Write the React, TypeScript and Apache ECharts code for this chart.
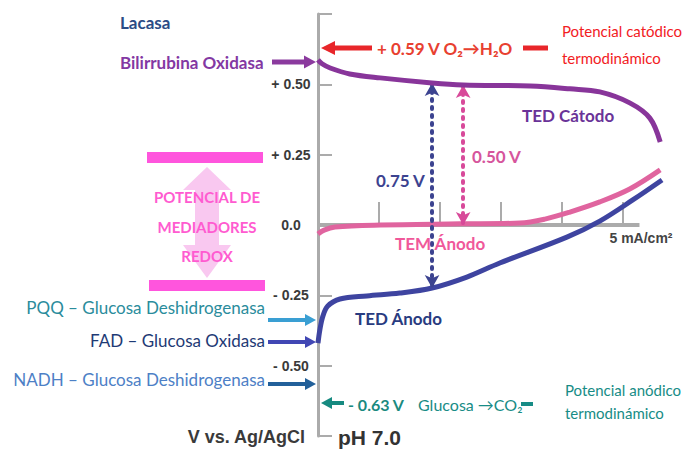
import React, { useEffect, useRef } from 'react';
import * as echarts from 'echarts';

// y-axis (V vs. Ag/AgCl) tick values and labels
const yTickValues = [-0.5, -0.25, 0, 0.25, 0.5];
const yTickLabels = ['- 0.50', '- 0.25', '0.0', '+ 0.25', '+ 0.50'];
// x-axis (current density, mA/cm²)
const xTickValues = [1, 2, 3, 4, 5];
const xAxisEnd = 5.27;
const xLabelText = '5 mA/cm²';

// curves: [current mA/cm², potential V]
const tedCathode = [
  [0, 0.587], [0.066, 0.573], [0.2, 0.558], [0.52, 0.537], [1.02, 0.523], [1.87, 0.505],
  [2.38, 0.498], [3.48, 0.494], [4.13, 0.484], [4.62, 0.473], [5.11, 0.434], [5.44, 0.38], [5.61, 0.295],
];
const temAnode = [
  [0, -0.032], [0.1, -0.018], [0.28, -0.007], [1.02, 0], [2.33, 0.004], [3.31, 0.007],
  [3.72, 0.021], [4.13, 0.046], [4.62, 0.082], [5.11, 0.128], [5.61, 0.196],
];
const tedAnode = [
  [0, -0.42], [0.03, -0.373], [0.08, -0.324], [0.16, -0.288], [0.36, -0.263], [0.8, -0.252],
  [1.34, -0.242], [1.87, -0.224], [2.44, -0.185], [2.98, -0.135], [4.08, -0.043], [4.62, 0.014],
  [5.16, 0.089], [5.64, 0.16],
];
// voltage gaps (dotted double arrows)
const gapTED = [[1.87, 0.505], [1.87, -0.224]]; // 0.75 V
const gapTEM = [[2.38, 0.498], [2.38, 0.0]]; // 0.50 V

const FONT = 'Lato, "Noto Sans", sans-serif';
const AXFONT = '"Liberation Sans", Arial, sans-serif';

function hArrow(xTip: number, xTail: number, y: number, color: string, w: number, headL: number, headW: number) {
  const dir = xTail > xTip ? 1 : -1;
  const base = xTip + dir * headL;
  return [
    { type: 'line', z: 10, shape: { x1: base, y1: y, x2: xTail, y2: y }, style: { stroke: color, lineWidth: w } },
    { type: 'polygon', z: 10, shape: { points: [[xTip, y], [base, y - headW / 2], [base, y + headW / 2]] }, style: { fill: color } },
  ];
}

function txt(text: string, x: number, y: number, fill: string, size: number, weight: string, align: string, family = FONT) {
  return {
    type: 'text', z: 10, x, y,
    style: {
      text, fill, fontSize: size, fontWeight: weight, fontFamily: family,
      align, textAlign: align, verticalAlign: 'middle', textVerticalAlign: 'middle',
    },
  };
}

export default function App() {
  const ref = useRef<HTMLDivElement>(null);
  useEffect(() => {
    const chart = echarts.init(ref.current!, null, { renderer: 'svg' });
    const axisGray = '#ABABAB';
    const graphic: any[] = [
      // left enzyme labels
      txt('Lacasa', 120, 22, '#2B4C85', 17, 'bold', 'left'),
      txt('Bilirrubina Oxidasa', 120, 62, '#8338A3', 17, 'bold', 'left'),
      ...hArrow(316, 272, 62, '#8B3A9E', 5, 12, 13),
      txt('PQQ – Glucosa Deshidrogenasa', 265, 307, '#2A8C9C', 17, 'normal', 'right'),
      ...hArrow(316, 268, 320, '#3A9FD3', 4, 11, 12),
      txt('FAD – Glucosa Oxidasa', 265, 340, '#1E3A75', 17, 'normal', 'right'),
      ...hArrow(316, 268, 342, '#4147B4', 4, 11, 12),
      txt('NADH – Glucosa Deshidrogenasa', 265, 379, '#4D80C6', 17, 'normal', 'right'),
      ...hArrow(316, 268, 384, '#22609A', 4, 11, 12),
      // redox mediators block
      { type: 'polygon', z: 5, shape: { points: [[207, 167], [231, 190], [219, 190], [219, 245], [231, 245], [207, 278], [183, 245], [195, 245], [195, 190], [183, 190]] }, style: { fill: '#F9C8F0' } },
      { type: 'rect', z: 6, shape: { x: 147, y: 152, width: 116, height: 11 }, style: { fill: '#FF55DD' } },
      { type: 'rect', z: 6, shape: { x: 149, y: 280, width: 116, height: 11 }, style: { fill: '#FF55DD' } },
      txt('POTENCIAL DE', 207, 197, '#FF5BD0', 15, 'bold', 'center'),
      txt('MEDIADORES', 207, 227, '#FF5BD0', 15, 'bold', 'center'),
      txt('REDOX', 207, 256, '#FF5BD0', 15, 'bold', 'center'),
      // cathodic thermodynamic potential
      ...hArrow(321, 372, 48, '#E8262A', 5, 14, 14),
      txt('+ 0.59 V O₂→H₂O', 377, 48, '#E84030', 17, 'bold', 'left'),
      { type: 'line', z: 10, shape: { x1: 523, y1: 48, x2: 548, y2: 48 }, style: { stroke: '#E8262A', lineWidth: 5 } },
      txt('Potencial catódico', 562, 31, '#F2201E', 15, 'normal', 'left'),
      txt('termodinámico', 562, 58, '#F2201E', 15, 'normal', 'left'),
      // anodic thermodynamic potential
      ...hArrow(321, 344, 403, '#168A80', 4, 11, 12),
      txt('- 0.63 V', 348, 404, '#1A8A80', 16, 'bold', 'left'),
      txt('Glucosa →CO₂', 418, 404, '#178C86', 16, 'normal', 'left'),
      { type: 'line', z: 10, shape: { x1: 521, y1: 404, x2: 533, y2: 404 }, style: { stroke: '#178C86', lineWidth: 4 } },
      txt('Potencial anódico', 565, 390, '#178C86', 15, 'normal', 'left'),
      txt('termodinámico', 565, 413, '#178C86', 15, 'normal', 'left'),
      // curve labels
      txt('TED Cátodo', 522, 115, '#6A3398', 17, 'bold', 'left'),
      txt('0.75 V', 376, 180, '#3C4390', 17, 'bold', 'left'),
      txt('0.50 V', 472, 156, '#D6559C', 17, 'bold', 'left'),
      txt('TEM Ánodo', 395, 243, '#F0589A', 17, 'bold', 'left'),
      txt('TED Ánodo', 355, 318, '#283B80', 17, 'bold', 'left'),
      // axis captions
      txt(xLabelText, 641, 238, '#444444', 14, 'bold', 'center', AXFONT),
      txt('V vs. Ag/AgCl', 305, 437, '#3A3A3A', 18, 'bold', 'right', AXFONT),
      txt('pH 7.0', 338, 437, '#333333', 21, 'bold', 'left', AXFONT),
    ];

    const gapLine = (data: number[][], color: string) => ({
      silent: true,
      symbol: ['arrow', 'arrow'],
      symbolSize: [11, 13],
      label: { show: false },
      lineStyle: { color, width: 4, type: [2, 6], cap: 'round' },
      data: [[{ coord: data[0] }, { coord: data[1] }]],
    });

    chart.setOption({
      animation: false,
      grid: { left: 318, right: 19.3, top: 14, bottom: 14, outerBoundsMode: 'none', containLabel: false },
      xAxis: {
        type: 'value', min: 0, max: 5.7, interval: 1,
        axisLine: { show: true, onZero: true, lineStyle: { color: axisGray, width: 0, opacity: 0 } },
        axisTick: { show: true, inside: true, length: 23, customValues: xTickValues, lineStyle: { color: axisGray, width: 2 } },
        axisLabel: { show: false },
        splitLine: { show: false },
      },
      yAxis: {
        type: 'value', min: -0.75, max: 0.75, interval: 0.25,
        axisLine: { show: true, lineStyle: { color: axisGray, width: 3 } },
        axisTick: { show: true, inside: true, length: 14, lineStyle: { color: axisGray, width: 2 } },
        axisLabel: {
          show: true, margin: 27, align: 'center', customValues: yTickValues,
          formatter: (v: number) => {
            const i = yTickValues.findIndex((t) => Math.abs(t - v) < 1e-6);
            return i >= 0 ? yTickLabels[i] : '';
          },
          fontFamily: AXFONT, fontWeight: 'bold', fontSize: 14, color: '#3A3A3A',
        },
        splitLine: { show: false },
      },
      series: [
        {
          name: 'x axis line', type: 'line', data: [[0, 0], [xAxisEnd, 0]], showSymbol: false, silent: true,
          lineStyle: { color: axisGray, width: 4 }, z: 1,
        },
        {
          name: 'TEM Ánodo', type: 'line', data: temAnode, showSymbol: false, smooth: 0.35, clip: false,
          lineStyle: { color: '#E0649F', width: 5 }, z: 3,
          markLine: gapLine(gapTEM, '#D84A9A'),
        },
        {
          name: 'TED Ánodo', type: 'line', data: tedAnode, showSymbol: false, smooth: 0.35, clip: false,
          lineStyle: { color: '#3E44A0', width: 5 }, z: 4,
          markLine: gapLine(gapTED, '#3C4390'),
        },
        {
          name: 'TED Cátodo', type: 'line', data: tedCathode, showSymbol: false, smooth: 0.35, clip: false,
          lineStyle: { color: '#88359A', width: 5 }, z: 5,
        },
      ],
      graphic,
    });
    return () => chart.dispose();
  }, []);
  return <div ref={ref} style={{ position: 'absolute', left: 0, top: 0, width: 685, height: 450, background: '#fff' }} />;
}
